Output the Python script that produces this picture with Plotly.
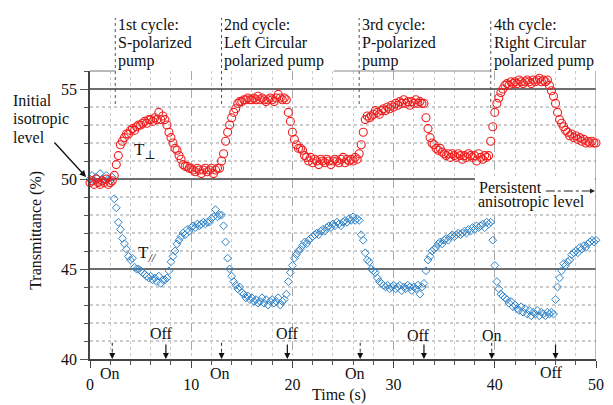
import plotly.graph_objects as go

# ---------------- data ----------------
# sampling step of the measured traces (s)
step_s = 0.2

t_perp = [
    49.8, 49.9, 49.7, 50.0, 49.8, 49.7, 49.9, 49.8, 50.0, 49.7,
    49.8, 49.9, 50.2, 50.8, 51.3, 51.9, 52.1, 52.3, 52.5, 52.5,
    52.7, 52.8, 52.7, 52.9, 53.0, 53.0, 53.1, 53.2, 53.1, 53.3,
    53.3, 53.2, 53.4, 53.3, 53.7, 53.3, 53.5, 53.3, 53.0, 52.6,
    52.3, 52.0, 51.7, 51.6, 51.3, 51.1, 50.8, 50.7, 50.7, 50.6,
    50.6, 50.5, 50.4, 50.6, 50.5, 50.3, 50.5, 50.6, 50.4, 50.5,
    50.6, 50.3, 50.5, 50.6, 50.6, 51.0, 51.4, 52.1, 52.6, 53.0,
    53.4, 53.7, 53.9, 54.2, 54.3, 54.3, 54.4, 54.4, 54.5, 54.4,
    54.4, 54.5, 54.4, 54.6, 54.4, 54.5, 54.4, 54.3, 54.4, 54.5,
    54.4, 54.3, 54.5, 54.7, 54.5, 54.4, 54.5, 54.4, 53.7, 53.2,
    52.6, 52.2, 51.9, 51.7, 51.7, 51.6, 51.3, 51.2, 51.0, 51.2,
    50.9, 51.1, 51.0, 50.8, 51.1, 51.0, 50.9, 51.1, 51.0, 50.8,
    51.0, 51.1, 51.0, 50.9, 51.1, 51.2, 50.9, 51.1, 51.0, 51.1,
    51.0, 51.2, 51.1, 51.4, 51.9, 52.6, 53.3, 53.5, 53.4, 53.5,
    53.6, 53.8, 53.7, 53.6, 53.8, 53.9, 53.8, 54.0, 53.9, 54.1,
    54.0, 54.2, 54.1, 54.3, 54.2, 54.4, 54.2, 54.3, 54.1, 54.3,
    54.2, 54.4, 54.2, 54.3, 54.2, 54.2, 53.4, 52.8, 52.3, 52.0,
    51.9, 51.7, 51.6, 51.7, 51.5, 51.4, 51.3, 51.4, 51.2, 51.4,
    51.3, 51.2, 51.4, 51.3, 51.1, 51.3, 51.2, 51.4, 51.3, 51.2,
    51.3, 51.0, 51.4, 51.2, 51.1, 51.3, 51.2, 51.3, 52.1, 52.9,
    53.7, 54.2, 54.5, 54.8, 55.0, 55.2, 55.3, 55.2, 55.4, 55.3,
    55.4, 55.3, 55.5, 55.4, 55.3, 55.4, 55.5, 55.4, 55.3, 55.5,
    55.4, 55.5, 55.6, 55.4, 55.5, 55.4, 55.5, 55.2, 54.9, 54.6,
    54.2, 53.7, 53.3, 53.1, 52.9, 52.7, 52.6, 52.4, 52.5, 52.3,
    52.4, 52.2, 52.3, 52.1, 52.2, 52.0, 52.1, 52.0, 52.1, 52.0,
    52.0,
]

t_par = [
    50.0, 50.2, 49.9, 50.1, 49.8, 50.3, 50.0, 49.9, 50.2, 50.0,
    49.9, 50.1, 48.9, 48.4, 47.6, 47.2, 46.7, 46.4, 46.1, 45.7,
    45.5, 45.6, 45.1, 45.0, 45.0, 44.9, 44.8, 44.7, 44.6, 44.5,
    44.6, 44.4, 44.5, 44.3, 44.6, 44.2, 44.4, 44.4, 44.5, 44.9,
    45.4, 45.7, 46.0, 46.4, 46.6, 46.8, 47.0, 46.9, 47.2, 47.1,
    47.3, 47.4, 47.3, 47.5, 47.4, 47.5, 47.6, 47.5, 47.6, 47.6,
    47.8, 47.9, 48.3, 47.9, 48.0, 48.0, 47.4, 46.5, 45.6, 45.0,
    44.6, 44.3, 44.1, 43.9, 44.0, 43.7, 43.6, 43.4, 43.5, 43.3,
    43.4, 43.2, 43.3, 43.1, 43.2, 43.4, 43.1, 43.3, 43.0, 43.2,
    43.3, 43.1, 43.2, 43.4, 43.0, 43.2, 43.3, 43.6, 44.3, 44.8,
    45.2, 45.6, 45.8, 46.0, 46.1, 46.3, 46.5, 46.4, 46.6, 46.7,
    46.8, 46.9, 47.0, 46.9, 47.1, 47.2, 47.1, 47.3, 47.4, 47.3,
    47.5, 47.4, 47.6, 47.5, 47.4, 47.6, 47.7, 47.6, 47.8, 47.7,
    47.9, 47.7, 47.8, 47.7, 46.9, 46.6, 45.9, 45.5, 45.4, 45.0,
    44.9, 44.8, 44.5, 44.3, 44.2, 44.1, 44.0, 44.1, 43.9, 44.0,
    44.1, 43.9, 44.0, 44.1, 43.8, 44.0, 43.9, 44.1, 44.0, 43.8,
    44.0, 43.9, 44.1, 43.6, 44.0, 44.2, 44.9, 45.5, 45.7, 46.0,
    46.1, 46.2, 46.4, 46.5, 46.4, 46.6, 46.7, 46.6, 46.8, 46.9,
    46.8, 46.9, 47.0, 46.9, 47.0, 47.1, 47.0, 47.2, 47.1, 47.3,
    47.2, 47.4, 47.3, 47.4, 47.5, 47.3, 47.6, 47.5, 47.6, 46.6,
    45.2, 44.3, 43.9, 43.6, 43.5, 43.4, 43.3, 43.1, 43.2, 42.9,
    43.0, 42.8, 42.7, 42.9, 42.6, 42.8, 42.5, 42.7, 42.4, 42.6,
    42.5, 42.7, 42.4, 42.6, 42.5, 42.4, 42.6, 42.5, 42.6, 42.5,
    43.3, 44.0, 44.5, 44.9, 45.3, 45.2, 45.4, 45.5, 45.8, 45.9,
    46.0, 45.9, 46.2, 46.1, 46.3, 46.2, 46.4, 46.5, 46.6, 46.5,
    46.6,
]

time_s = [round(i * step_s, 1) for i in range(len(t_perp))]

# pump events (s)
on_times = [2.2, 13.0, 26.7, 39.7]
off_times = [7.5, 19.5, 33.0, 46.0]
# cycle start markers (s) and labels
cycle_times = [2.5, 13.0, 26.6, 39.6]
cycle_labels = [
    ["1st cycle:", "S-polarized", "pump"],
    ["2nd cycle:", "Left Circular", "polarized pump"],
    ["3rd cycle:", "P-polarized", "pump"],
    ["4th cycle:", "Right Circular", "polarized pump"],
]
x_ticks = [0, 10, 20, 30, 40, 50]
y_ticks = [40, 45, 50, 55]

# ---------------- layout geometry ----------------
W, H = 613, 405
ML, MR, MT, MB = 90, 9, 71, 46
FONT = "'Liberation Serif', 'Times New Roman', 'DejaVu Serif', serif"
TXT = "#111111"


def px(xp):
    return (xp - ML) / (W - ML - MR)


def py(yp):
    return (H - MB - yp) / (H - MT - MB)


def label(x, y, text, size=16, xanchor="center", xref="paper", **kw):
    d = dict(xref=xref, yref="paper", x=x, y=y, text=text, showarrow=False,
             xanchor=xanchor, yanchor="middle",
             font=dict(family=FONT, size=size, color=TXT))
    d.update(kw)
    return d


fig = go.Figure()
fig.add_trace(go.Scatter(
    x=time_s, y=t_par, mode="markers", name="T//",
    marker=dict(symbol="diamond-open", size=6, color="rgb(45,130,200)",
                line=dict(width=1, color="rgb(45,130,200)")),
    showlegend=False, cliponaxis=False))
fig.add_trace(go.Scatter(
    x=time_s, y=t_perp, mode="markers", name="T⊥",
    marker=dict(symbol="circle-open", size=8, color="rgb(240,30,30)",
                line=dict(width=1.1, color="rgb(240,30,30)")),
    showlegend=False, cliponaxis=False))

ann = []
shapes = []

# cycle labels + dotted markers
for tc, lines in zip(cycle_times, cycle_labels):
    shapes.append(dict(type="line", xref="x", yref="paper", x0=tc, x1=tc,
                       y0=py(104 if tc < 39 else 108), y1=py(18),
                       line=dict(color="#555555", width=1, dash="dot")))
    for k, s in enumerate(lines):
        ann.append(label(tc + 0.08, py(24.5 + 18 * k), s, xanchor="left", xref="x"))

# On / Off arrows
for t in on_times:
    shapes.append(dict(type="line", xref="x", yref="y", x0=t, x1=t,
                       y0=40.9, y1=40.35,
                       line=dict(color="#222222", width=1, dash="dot")))
    ann.append(dict(xref="x", yref="y", x=t, y=40, ax=0, ay=-8, text="",
                    showarrow=True, arrowhead=2, arrowsize=1, arrowwidth=1.2,
                    arrowcolor="#111111"))
for t in off_times:
    ann.append(dict(xref="x", yref="y", x=t, y=40, ax=0, ay=-16, text="",
                    showarrow=True, arrowhead=2, arrowsize=1, arrowwidth=1.2,
                    arrowcolor="#111111"))

# On / Off labels (positions in time, pixel rows)
onoff_labels = [
    ("On", 1.95, 373), ("Off", 7.1, 333),
    ("On", 12.8, 373), ("Off", 19.5, 333),
    ("On", 26.2, 373), ("Off", 32.5, 335),
    ("On", 39.7, 335), ("Off", 45.6, 372),
]
for s, t, yp in onoff_labels:
    ann.append(label(t, py(yp), s, xref="x"))

# Initial isotropic level
for k, s in enumerate(["Initial", "isotropic", "level"]):
    ann.append(label(px(10), py(100 + 18.5 * k), s, xanchor="left"))
ann.append(dict(xref="paper", yref="paper", x=px(86), y=py(177), ax=-33, ay=-36,
                text="", showarrow=True, arrowhead=2, arrowsize=1, arrowwidth=1.3,
                arrowcolor="#111111"))

# series labels
ann.append(label(px(146), py(151), "T<sub>⊥</sub>", size=17))
ann.append(label(px(148), py(254), "T<sub><i>//</i></sub>", size=17))

# Persistent anisotropic level (white patch hides the 50 % line behind it)
shapes.append(dict(type="rect", xref="paper", yref="paper", layer="above",
                   x0=px(481), x1=px(603), y0=py(211), y1=py(176),
                   fillcolor="white", line=dict(width=0)))
shapes.append(dict(type="line", xref="paper", yref="paper", x0=px(553), x1=px(598),
                   y0=py(191), y1=py(191), layer="above",
                   line=dict(color="#222222", width=1, dash="dashdot")))
ann.append(dict(xref="paper", yref="paper", x=px(603), y=py(191), ax=-6, ay=0, text="",
                showarrow=True, arrowhead=2, arrowsize=1, arrowwidth=1, arrowcolor="#222222"))
ann.append(label(px(483), py(187), "Persistent", xanchor="left"))
ann.append(label(px(482), py(202), "anisotropic level", xanchor="left"))

# axis titles
ann.append(label(px(343), py(395), "Time (s)"))
ann.append(label(px(35), py(230), "Transmittance (%)", textangle=-90))

# frame: right border and visible parts of top border
shapes.append(dict(type="line", xref="x", yref="paper", x0=50, x1=50, y0=0, y1=1,
                   line=dict(color="#8a8a8a", width=1.2)))
for a, b in [(0, 2.5), (24.1, 39.6)]:
    shapes.append(dict(type="line", xref="x", yref="paper", x0=a, x1=b, y0=1, y1=1,
                       line=dict(color="#8a8a8a", width=1.2)))

fig.update_layout(
    width=W, height=H,
    margin=dict(l=ML, r=MR, t=MT, b=MB, pad=0),
    paper_bgcolor="white", plot_bgcolor="white",
    font=dict(family=FONT, size=16, color=TXT),
    annotations=ann, shapes=shapes,
    xaxis=dict(range=[0, 50], tickvals=x_ticks, showgrid=True,
               gridcolor="#a8a8a8", griddash="dash", gridwidth=1,
               showline=True, linecolor="#444444", linewidth=1.5,
               ticks="outside", ticklen=7, tickcolor="#444444",
               ticklabelstandoff=3, zeroline=False,
               tickfont=dict(family=FONT, size=16, color=TXT),
               minor=dict(dtick=2, showgrid=True, gridcolor="#cccccc", griddash="dot",
                          ticks="outside", ticklen=4, tickcolor="#555555")),
    yaxis=dict(range=[40, 56], tickvals=y_ticks, showgrid=True,
               gridcolor="#6e6e6e", gridwidth=1.5,
               showline=True, linecolor="#444444", linewidth=1.5,
               ticks="outside", ticklen=8, tickcolor="#555555",
               ticklabelstandoff=0, zeroline=False,
               tickfont=dict(family=FONT, size=16, color=TXT),
               minor=dict(dtick=1, showgrid=True, gridcolor="#cccccc", griddash="dot",
                          ticks="outside", ticklen=4, tickcolor="#555555")),
)

fig.write_html("out.html")
